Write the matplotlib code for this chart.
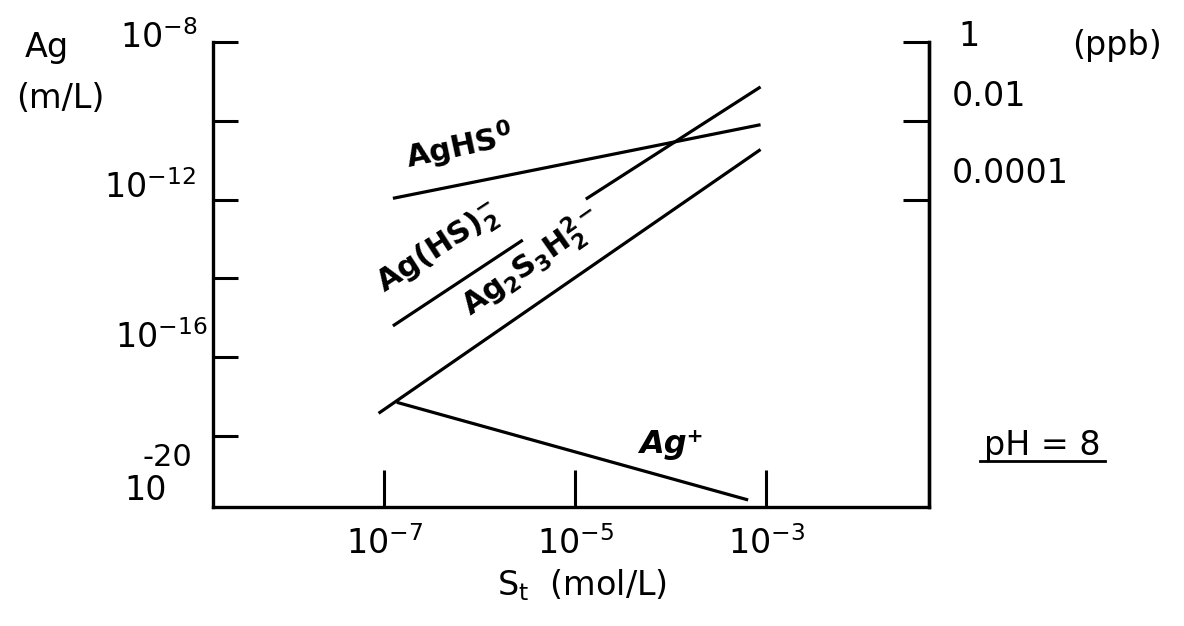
import matplotlib
matplotlib.use('Agg')
import matplotlib.pyplot as plt
from matplotlib.lines import Line2D

W, H = 1184, 626

# log10 S_t (mol/L) vs log10 Ag (m/L)
ag_hs0_x = [-6.91, -3.06]
ag_hs0_y = [-11.97, -10.10]
# Ag(HS)2- is broken in two pieces to leave room for the label
ag_hs2_x_lo = [-6.91, -5.55]
ag_hs2_y_lo = [-15.21, -13.03]
ag_hs2_x_hi = [-4.89, -3.06]
ag_hs2_y_hi = [-11.99, -9.14]
ag2s3h2_x = [-7.06, -3.06]
ag2s3h2_y = [-17.43, -10.73]
ag_plus_x = [-6.87, -3.19]
ag_plus_y = [-17.15, -19.63]

x_ticks = [-7, -5, -3]
x_ticklabels = [r'$10^{-7}$', r'$10^{-5}$', r'$10^{-3}$']
y_ticks = [-8, -10, -12, -14, -16, -18]
ppb_ticks = [-8, -10, -12]
ppb_labels = ['1', '0.01', '0.0001']

FS = 24


def px(x, y):
    # pixel position -> figure fraction
    return x / W, 1 - y / H


fig = plt.figure(figsize=(W / 100, H / 100), dpi=100)
ax = fig.add_axes([213 / W, 1 - 507 / H, (929 - 213) / W, (507 - 42) / H])

lw = 2.3
for xs, ys in [(ag_hs0_x, ag_hs0_y), (ag_hs2_x_lo, ag_hs2_y_lo), (ag_hs2_x_hi, ag_hs2_y_hi),
               (ag2s3h2_x, ag2s3h2_y), (ag_plus_x, ag_plus_y)]:
    ax.plot(xs, ys, color='black', linewidth=lw, solid_capstyle='butt')

ax.set_xlim(-8.794, -1.296)
ax.set_ylim(-19.809, -8.049)

ax.spines['top'].set_visible(False)
for s in ['left', 'bottom', 'right']:
    ax.spines[s].set_linewidth(2.4)

ax.set_xticks(x_ticks)
ax.set_xticklabels(x_ticklabels, fontsize=FS)
ax.tick_params(axis='x', direction='in', length=27, width=2.2, pad=14)
ax.set_yticks(y_ticks)
ax.set_yticklabels([])
ax.tick_params(axis='y', direction='in', length=18, width=2.2)

ax2 = ax.twinx()
ax2.set_ylim(ax.get_ylim())
for s in ['left', 'bottom', 'top']:
    ax2.spines[s].set_visible(False)
ax2.spines['right'].set_linewidth(2.4)
ax2.set_yticks(ppb_ticks)
ax2.set_yticklabels([])
ax2.tick_params(axis='y', direction='in', length=19, width=2.2)

# left axis labels, placed as in the original drawing
fig.text(*px(198, 38), r'$10^{-8}$', fontsize=FS, ha='right', va='center')
fig.text(*px(196, 188), r'$10^{-12}$', fontsize=FS, ha='right', va='center')
fig.text(*px(208, 338), r'$10^{-16}$', fontsize=FS, ha='right', va='center')
fig.text(*px(167, 457), '-20', fontsize=FS - 2, ha='center', va='center')
fig.text(*px(146, 490), '10', fontsize=FS, ha='center', va='center')
fig.text(*px(47, 48), 'Ag', fontsize=FS, ha='center', va='center')
fig.text(*px(60, 98), '(m/L)', fontsize=FS, ha='center', va='center')

# right axis (ppb)
right_y = [36, 97, 174]
for lab, yy in zip(ppb_labels, right_y):
    fig.text(*px(952 if lab != '1' else 958, yy), lab, fontsize=FS, ha='left', va='center')
fig.text(*px(1117, 45), '(ppb)', fontsize=FS, ha='center', va='center')

fig.text(*px(582, 585), r'S$_{\mathrm{t}}$  (mol/L)', fontsize=FS, ha='center', va='center')

# species labels
def at(x, y):
    return ax.transData.inverted().transform(fig.transFigure.transform(px(x, y)))


ax.text(*at(459, 147), r'$\mathbf{AgHS^{0}}$', fontsize=FS - 2, rotation=12,
        ha='center', va='center')
ax.text(*at(439, 249), r'$\mathbf{Ag(HS)_{2}^{-}}$', fontsize=FS - 2, rotation=33,
        ha='center', va='center', rotation_mode='anchor')
ax.text(*at(532, 263), r'$\mathbf{Ag_{2}S_{3}H_{2}^{2-}}$', fontsize=FS - 2, rotation=35,
        ha='center', va='center', rotation_mode='anchor')
ax.text(*at(671, 445), 'Ag\u207a', fontsize=FS - 1, fontweight='bold', fontstyle='italic',
        ha='center', va='center')

fig.text(*px(1042, 445), 'pH = 8', fontsize=FS, ha='center', va='center')
fig.add_artist(Line2D([980 / W, 1105 / W], [1 - 461 / H, 1 - 461 / H], color='black',
                      linewidth=2, transform=fig.transFigure))

fig.savefig('out.png', dpi=100, facecolor='white')
